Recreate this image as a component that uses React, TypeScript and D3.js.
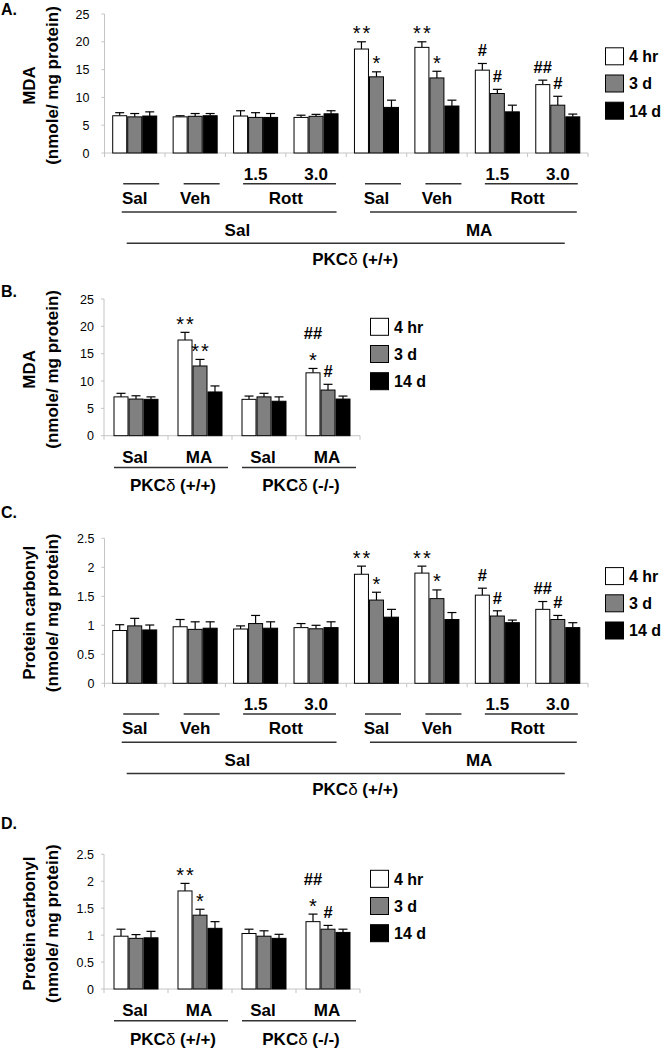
import React from 'react';
import * as d3 from 'd3';

// ---------- shared ----------
const seriesNames = ['4 hr', '3 d', '14 d'];
const seriesFill = ['#ffffff', '#808080', '#000000'];

// ---------- Panel A: MDA, PKCδ (+/+), Sal/Veh/Rott x Sal/MA ----------
const groupsA = ['Sal-Sal', 'Sal-Veh', 'Sal-Rott1.5', 'Sal-Rott3.0', 'MA-Sal', 'MA-Veh', 'MA-Rott1.5', 'MA-Rott3.0'];
const mdaA_4hr = [6.7, 6.5, 6.65, 6.4, 18.7, 19.0, 14.9, 12.3];
const mdaA_4hr_se = [0.55, 0.2, 0.95, 0.4, 1.3, 1.0, 1.2, 0.8];
const mdaA_3d = [6.5, 6.6, 6.4, 6.6, 13.7, 13.5, 10.7, 8.6];
const mdaA_3d_se = [0.6, 0.5, 0.85, 0.35, 0.9, 1.2, 0.75, 1.6];
const mdaA_14d = [6.65, 6.7, 6.4, 7.05, 8.2, 8.45, 7.4, 6.5];
const mdaA_14d_se = [0.75, 0.4, 0.7, 0.55, 1.3, 1.05, 1.2, 0.5];
const annA = [
  { g: 4, s: 0, marks: ['**'] }, { g: 4, s: 1, marks: ['*'] },
  { g: 5, s: 0, marks: ['**'] }, { g: 5, s: 1, marks: ['*'] },
  { g: 6, s: 0, marks: ['#'] }, { g: 6, s: 1, marks: ['#'] },
  { g: 7, s: 0, marks: ['##'] }, { g: 7, s: 1, marks: ['#'] },
];

// ---------- Panel B: MDA, PKCδ (+/+) vs (-/-) ----------
const groupsB = ['WT-Sal', 'WT-MA', 'KO-Sal', 'KO-MA'];
const mdaB_4hr = [7.1, 17.5, 6.65, 11.5];
const mdaB_4hr_se = [0.65, 1.4, 0.6, 0.8];
const mdaB_3d = [6.7, 12.75, 7.1, 8.35];
const mdaB_3d_se = [0.6, 1.2, 0.65, 1.05];
const mdaB_14d = [6.65, 8.0, 6.3, 6.7];
const mdaB_14d_se = [0.45, 1.1, 0.8, 0.55];
const annB = [
  { g: 1, s: 0, marks: ['**'] }, { g: 1, s: 1, marks: ['**'] },
  { g: 3, s: 0, marks: ['*', '##'] }, { g: 3, s: 1, marks: ['#'] },
];

// ---------- Panel C: Protein carbonyl, design as A ----------
const pcC_4hr = [0.91, 0.975, 0.936, 0.96, 1.88, 1.9, 1.52, 1.275];
const pcC_4hr_se = [0.1, 0.125, 0.054, 0.07, 0.14, 0.12, 0.12, 0.135];
const pcC_3d = [0.99, 0.93, 1.03, 0.94, 1.435, 1.46, 1.16, 1.1];
const pcC_3d_se = [0.13, 0.13, 0.14, 0.06, 0.135, 0.15, 0.09, 0.07];
const pcC_14d = [0.92, 0.95, 0.95, 0.96, 1.14, 1.1, 1.045, 0.96];
const pcC_14d_se = [0.085, 0.11, 0.11, 0.1, 0.135, 0.12, 0.045, 0.085];
const annC = annA;

// ---------- Panel D: Protein carbonyl, design as B ----------
const pcD_4hr = [0.98, 1.82, 1.03, 1.25];
const pcD_4hr_se = [0.13, 0.14, 0.08, 0.14];
const pcD_3d = [0.94, 1.37, 0.98, 1.11];
const pcD_3d_se = [0.07, 0.11, 0.1, 0.07];
const pcD_14d = [0.95, 1.126, 0.94, 1.05];
const pcD_14d_se = [0.12, 0.124, 0.075, 0.06];
const annD = [
  { g: 1, s: 0, marks: ['**'] }, { g: 1, s: 1, marks: ['*'] },
  { g: 3, s: 0, marks: ['*', '##'] }, { g: 3, s: 1, marks: ['#'] },
];

// ---------- tick / label text ----------
const ticksMDA = [0, 5, 10, 15, 20, 25];
const ticksPC = [0, 0.5, 1, 1.5, 2, 2.5];
const doseLabels = ['1.5', '3.0'];
const pretreatLabels = ['Sal', 'Veh', 'Rott'];
const treatLabels = ['Sal', 'MA'];
const genotypeLabels = ['PKCδ (+/+)', 'PKCδ (-/-)'];
const titleMDA = ['MDA', '(nmole/ mg protein)'];
const titlePC = ['Protein carbonyl', '(nmole/ mg protein)'];

const FONT = "'Liberation Sans', Arial, Helvetica, sans-serif";
const LINE = '#333';
const AXIS = '#c4c4c4';

function Genotype({ x, y, text }: { x: number; y: number; text: string }) {
  const parts = text.split('δ');
  return (
    <text x={x} y={y} textAnchor="middle" fontSize={17} fontWeight="bold" fill="#000">
      {parts[0]}
      <tspan fontWeight="normal">δ</tspan>
      {parts[1]}
    </text>
  );
}

function Mark({ x, cy, text }: { x: number; cy: number; text: string }) {
  const isHash = text.includes('#');
  if (isHash) {
    return (
      <text x={x} y={cy + 5.8} textAnchor="middle" fontSize={16.5} fontWeight="bold" fill="#000">
        {text}
      </text>
    );
  }
  return (
    <text x={x + 1} y={cy + 11.5} textAnchor="middle" fontSize={20} fill="#000" letterSpacing={2}>
      {text}
    </text>
  );
}

type Ann = { g: number; s: number; marks: string[] };

function BarPanel(p: {
  letter: string; letterY: number;
  top: number; bottom: number; left: number; right: number;
  yMax: number; ticks: number[]; tickGap: number;
  title: string[];
  groups: string[];
  series: number[][]; errs: number[][];
  anns: Ann[];
  legendMid: number; legendX: number;
  padInner: number;
  labels: 'rott' | 'geno';
}) {
  const n = p.groups.length;
  const idx = d3.range(n);
  const x0 = d3.scaleBand<number>().domain(idx).range([p.left, p.right]).paddingInner(p.padInner).paddingOuter(p.padInner / 2);
  const x1 = d3.scaleBand<number>().domain([0, 1, 2]).range([0, x0.bandwidth()]);
  const y = d3.scaleLinear().domain([0, p.yMax]).range([p.bottom, p.top]);
  const c = (i: number) => (x0(i) as number) + x0.bandwidth() / 2;
  const step = x0.step();
  const midY = (p.top + p.bottom) / 2 + 2;
  const base = p.bottom;

  const labelEls: React.ReactNode[] = [];
  const T = (key: string, x: number, cy: number, t: string) => (
    <text key={key} x={x} y={cy + 6.1} textAnchor="middle" fontSize={17} fontWeight="bold" fill="#000">{t}</text>
  );
  const L = (key: string, xa: number, xb: number, yy: number) => (
    <line key={key} x1={xa} x2={xb} y1={yy} y2={yy} stroke={LINE} strokeWidth={1.4} />
  );
  if (p.labels === 'rott') {
    const longL = [-13, -6.5];
    const longR = [20.5, 19];
    treatLabels.forEach((t, ti) => {
      const g = ti * 4;
      labelEls.push(L(`s0${ti}`, c(g) - 11.5, c(g) + 24.5, base + 30.7));
      labelEls.push(L(`s1${ti}`, c(g + 1) - 11.5, c(g + 1) + 24.5, base + 30.7));
      labelEls.push(L(`r${ti}`, c(g + 2) - 12.5, c(g + 3) + 20, base + 30.7));
      doseLabels.forEach((d, di) => labelEls.push(T(`d${ti}${di}`, c(g + 2 + di), base + 20.5, d)));
      labelEls.push(T(`p0${ti}`, c(g), base + 44.7, pretreatLabels[0]));
      labelEls.push(T(`p1${ti}`, c(g + 1), base + 44.7, pretreatLabels[1]));
      labelEls.push(T(`p2${ti}`, (c(g + 2) + c(g + 3)) / 2, base + 44.7, pretreatLabels[2]));
      labelEls.push(L(`l${ti}`, c(g) + longL[ti], c(g + 3) + longR[ti], base + 59));
      labelEls.push(T(`t${ti}`, (c(g) + c(g + 3)) / 2 + 12, base + 76.5, t));
    });
    labelEls.push(L('bot', c(0) - 8, c(7) + 7, base + 90.2));
    labelEls.push(<Genotype key="gen" x={(c(0) + c(7)) / 2 + 9} y={base + 106 + 6.1} text={genotypeLabels[0]} />);
  } else {
    genotypeLabels.forEach((gname, gi) => {
      const g = gi * 2;
      treatLabels.forEach((t, ti) => labelEls.push(T(`t${gi}${ti}`, c(g + ti) - 1, base + 21, t)));
      labelEls.push(L(`l${gi}`, c(g) - 22, c(g + 1) + 28, base + 31.8));
      labelEls.push(<Genotype key={`g${gi}`} x={(c(g) + c(g + 1)) / 2 + 5} y={base + 49.5 + 6.1} text={gname} />);
    });
  }

  return (
    <g>
      <text x={1} y={p.letterY} fontSize={16} fontWeight="bold" fill="#000">{p.letter}</text>
      {/* y title */}
      {p.title.map((t, i) => (
        <text key={t} transform={`translate(${i === 0 ? 35 : 58},${midY}) rotate(-90)`} textAnchor="middle" fontSize={17} fontWeight="bold" fill="#000">{t}</text>
      ))}
      {/* y axis */}
      <line x1={p.left} x2={p.left} y1={p.top} y2={p.bottom} stroke={AXIS} strokeWidth={1} />
      {p.ticks.map((t) => (
        <g key={t}>
          <line x1={p.left - 3} x2={p.left} y1={y(t)} y2={y(t)} stroke={AXIS} />
          <text x={p.left - p.tickGap} y={y(t)} dy="0.36em" textAnchor="end" fontSize={12.5} fill="#000">{String(t)}</text>
        </g>
      ))}
      {/* x axis */}
      <line x1={p.left} x2={p.right} y1={p.bottom} y2={p.bottom} stroke={AXIS} strokeWidth={1} />
      {d3.range(n + 1).map((k) => (
        <line key={k} x1={p.left + step * k} x2={p.left + step * k} y1={p.bottom} y2={p.bottom + 4} stroke={AXIS} />
      ))}
      {/* bars */}
      {idx.map((g) => (
        <g key={g} transform={`translate(${x0(g)},0)`}>
          {p.series.map((vals, s) => {
            const bx = x1(s) as number;
            const bw = x1.bandwidth();
            const top = y(vals[g]);
            const et = y(vals[g] + p.errs[s][g]);
            const cx = bx + bw / 2;
            return (
              <g key={s}>
                <line x1={cx} x2={cx} y1={top} y2={et} stroke="#000" strokeWidth={1.2} />
                <line x1={cx - 4.5} x2={cx + 4.5} y1={et} y2={et} stroke="#000" strokeWidth={1.2} />
                <rect x={bx + 0.5} y={top} width={bw - 1} height={p.bottom - top} fill={seriesFill[s]} stroke="#000" strokeWidth={1} />
              </g>
            );
          })}
        </g>
      ))}
      {/* significance marks */}
      {p.anns.map((a, i) => {
        const vals = p.series[a.s];
        const et = y(vals[a.g] + p.errs[a.s][a.g]);
        const cx = (x0(a.g) as number) + (x1(a.s) as number) + x1.bandwidth() / 2;
        return (
          <g key={i}>
            {a.marks.map((m, k) => (
              <Mark key={k} x={cx} cy={et - 13 - 22 * k} text={m} />
            ))}
          </g>
        );
      })}
      {/* legend */}
      {seriesNames.map((s, i) => {
        const cy = p.legendMid + (i - 1) * 27.2;
        return (
          <g key={s}>
            <rect x={p.legendX + 0.5} y={cy - 8.5} width={18} height={17} fill={seriesFill[i]} stroke="#000" strokeWidth={1} />
            <text x={p.legendX + 24} y={cy + 5.8} fontSize={16} fontWeight="bold" fill="#000">{s}</text>
          </g>
        );
      })}
      {labelEls}
    </g>
  );
}

export default function App() {
  return (
    <svg width={661} height={1048} style={{ position: 'absolute', left: 0, top: 0, background: '#fff' }} fontFamily={FONT}>
      <rect width={661} height={1048} fill="#fff" />
      <BarPanel
        letter="A." letterY={15}
        top={14} bottom={153} left={104.5} right={588}
        yMax={25} ticks={ticksMDA} tickGap={15}
        title={titleMDA} groups={groupsA}
        series={[mdaA_4hr, mdaA_3d, mdaA_14d]} errs={[mdaA_4hr_se, mdaA_3d_se, mdaA_14d_se]}
        anns={annA} legendMid={83.5} legendX={605} padInner={0.255} labels="rott"
      />
      <BarPanel
        letter="B." letterY={296.5}
        top={299} bottom={435.7} left={104} right={360}
        yMax={25} ticks={ticksMDA} tickGap={10}
        title={titleMDA} groups={groupsB}
        series={[mdaB_4hr, mdaB_3d, mdaB_14d]} errs={[mdaB_4hr_se, mdaB_3d_se, mdaB_14d_se]}
        anns={annB} legendMid={354} legendX={370} padInner={0.297} labels="geno"
      />
      <BarPanel
        letter="C." letterY={518}
        top={538.3} bottom={683.3} left={104.5} right={588}
        yMax={2.5} ticks={ticksPC} tickGap={10}
        title={titlePC} groups={groupsA}
        series={[pcC_4hr, pcC_3d, pcC_14d]} errs={[pcC_4hr_se, pcC_3d_se, pcC_14d_se]}
        anns={annC} legendMid={603.3} legendX={605} padInner={0.255} labels="rott"
      />
      <BarPanel
        letter="D." letterY={829}
        top={854.3} bottom={989} left={104} right={360}
        yMax={2.5} ticks={ticksPC} tickGap={10}
        title={titlePC} groups={groupsB}
        series={[pcD_4hr, pcD_3d, pcD_14d]} errs={[pcD_4hr_se, pcD_3d_se, pcD_14d_se]}
        anns={annD} legendMid={906} legendX={370} padInner={0.297} labels="geno"
      />
    </svg>
  );
}
